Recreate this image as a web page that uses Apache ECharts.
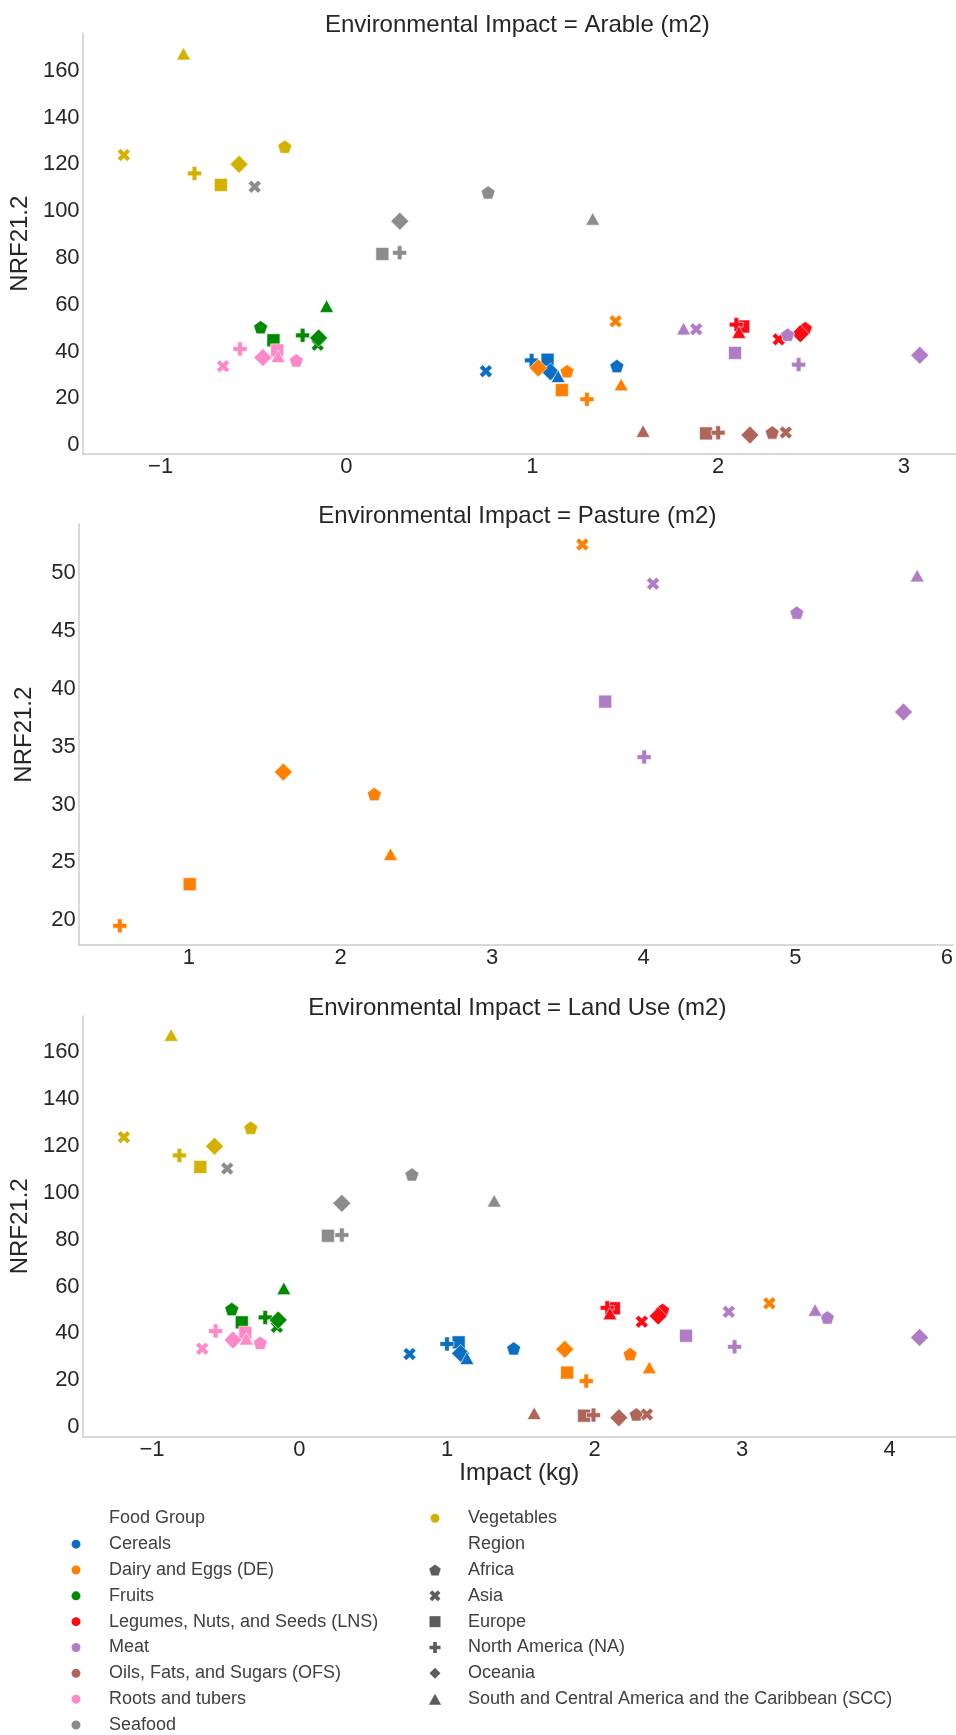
<!DOCTYPE html>
<html>
<head>
<meta charset="utf-8">
<script src="https://cdn.jsdelivr.net/npm/echarts@6/dist/echarts.min.js"></script>
<style>
html,body{margin:0;padding:0;background:#fff;}
#chart{width:956px;height:1735px;}
</style>
</head>
<body>
<div id="chart"></div>
<script>
// ---- categories ----
const foodGroups = ['Cereals','Dairy and Eggs (DE)','Fruits','Legumes, Nuts, and Seeds (LNS)','Meat','Oils, Fats, and Sugars (OFS)','Roots and tubers','Seafood','Vegetables'];
const foodColors = ['#0a6fc2','#ff8000','#008a00','#ff0a14','#b07cc6','#b0655a','#ff88c8','#8c8c8c','#d4b000'];
const regions = ['Africa','Asia','Europe','North America (NA)','Oceania','South and Central America and the Caribbean (SCC)'];
const panelTitles = ['Environmental Impact = Arable (m2)','Environmental Impact = Pasture (m2)','Environmental Impact = Land Use (m2)'];

// ---- data: [x, y] per region in order Africa, Asia, Europe, NA, Oceania, SCC ----
// Arable
const arableCereals    = [[1.455,33.8],[0.750,31.6],[1.082,36.5],[0.996,36.2],[1.098,31.3],[1.139,29.4]];
const arableDairy      = [[1.187,31.6],[1.448,52.9],[1.159,23.5],[1.294,19.6],[1.032,33.0],[1.478,25.9]];
const arableFruits     = [[-0.462,50.4],[-0.155,42.9],[-0.393,44.8],[-0.236,46.9],[-0.150,45.8],[-0.107,59.4]];
const arableLegumes    = [[2.469,50.0],[2.326,45.2],[2.135,50.7],[2.098,51.5],[2.442,47.6],[2.112,48.3]];
const arableMeat       = [[2.374,47.2],[1.882,49.5],[2.091,39.4],[2.433,34.4],[3.085,38.4],[1.814,49.8]];
const arableOils       = [[2.291,5.4],[2.364,5.4],[1.935,5.0],[2.000,5.3],[2.171,4.3],[1.596,6.0]];
const arableRoots      = [[-0.270,36.2],[-0.664,33.7],[-0.373,40.5],[-0.573,41.1],[-0.450,37.4],[-0.368,38.0]];
const arableSeafood    = [[0.762,108.0],[-0.494,110.4],[0.193,81.7],[0.286,82.2],[0.287,95.7],[1.325,96.7]];
const arableVegetables = [[-0.332,127.6],[-1.198,124.0],[-0.676,111.2],[-0.818,116.1],[-0.578,120.0],[-0.877,167.3]];
// Pasture
const pastureDairy     = [[2.223,30.9],[3.595,52.5],[1.005,23.1],[0.544,19.5],[1.623,32.8],[2.330,25.7]];
const pastureMeat      = [[5.010,46.6],[4.062,49.1],[3.746,38.9],[4.003,34.1],[5.714,38.0],[5.804,49.8]];
// Land Use
const landCereals      = [[1.452,33.6],[0.746,31.2],[1.079,36.2],[1.000,35.5],[1.092,31.5],[1.135,29.4]];
const landDairy        = [[2.241,31.2],[3.185,52.8],[1.814,23.3],[1.944,19.7],[1.798,33.2],[2.371,25.5]];
const landFruits       = [[-0.459,50.4],[-0.153,42.8],[-0.391,44.7],[-0.232,46.8],[-0.144,45.7],[-0.106,59.2]];
const landLegumes      = [[2.461,50.0],[2.320,45.0],[2.131,50.7],[2.086,50.9],[2.432,47.4],[2.104,48.5]];
const landMeat         = [[3.578,46.8],[2.910,49.2],[2.620,39.0],[2.949,34.3],[4.203,38.3],[3.495,50.0]];
const landOils         = [[2.283,5.5],[2.355,5.5],[1.929,4.95],[1.993,5.2],[2.165,4.1],[1.591,6.0]];
const landRoots        = [[-0.266,36.0],[-0.659,33.5],[-0.367,40.3],[-0.569,41.0],[-0.450,37.2],[-0.360,37.7]];
const landSeafood      = [[0.762,107.7],[-0.490,110.2],[0.193,81.6],[0.287,81.9],[0.287,95.4],[1.320,96.5]];
const landVegetables   = [[-0.330,127.6],[-1.190,123.6],[-0.672,110.9],[-0.814,115.8],[-0.576,119.7],[-0.870,167.1]];

// ---- axis ranges / ticks ----
const xRanges = [[-1.42,3.28],[0.273,6.04],[-1.47,4.45]];
const yRanges = [[-3.8,176],[17.84,54.24],[-4.0,175.2]];
const xSteps = [1,1,1];
const ySteps = [20,5,20];

// ---- construction ----
const panels = [
  [arableCereals,arableDairy,arableFruits,arableLegumes,arableMeat,arableOils,arableRoots,arableSeafood,arableVegetables],
  [null,pastureDairy,null,null,pastureMeat,null,null,null,null],
  [landCereals,landDairy,landFruits,landLegumes,landMeat,landOils,landRoots,landSeafood,landVegetables]
];
const SYM_PENT = 'path://M0,-10L9.511,-3.09L5.878,8.09L-5.878,8.09L-9.511,-3.09Z';
const SYM_X = 'path://M2,-4L4,-2L2,0L4,2L2,4L0,2L-2,4L-4,2L-2,0L-4,-2L-2,-4L0,-2Z';
const SYM_RECT = 'path://M-1,-1L1,-1L1,1L-1,1Z';
const SYM_PLUS = 'path://M-1,-3L1,-3L1,-1L3,-1L3,1L1,1L1,3L-1,3L-1,1L-3,1L-3,-1L-1,-1Z';
const SYM_DIAMOND = 'path://M0,-1L1,0L0,1L-1,0Z';
const SYM_TRI = 'path://M0,-1L1,0.8L-1,0.8Z';
const regionSymbols = [SYM_PENT, SYM_X, SYM_RECT, SYM_PLUS, SYM_DIAMOND, SYM_TRI];
const regionSizes = [14, 13, 13, 14, 18, 14];

const FONT = '"Liberation Sans", Arial, sans-serif';
const TXT = '#262626';
const gridTops = [33.3, 524.3, 1016];
const gridH = 420.7;
const plotLeft = 78.7;
const plotCenter = plotLeft + (956 - plotLeft) / 2;

const grids = [], xAxes = [], yAxes = [], titles = [];
const fmt = v => (v < 0 ? '\u2212' + Math.abs(v) : String(v));
for (let p = 0; p < 3; p++) {
  grids.push({left: plotLeft, top: gridTops[p], right: 0, height: gridH, containLabel: false});
  xAxes.push({
    type: 'value', gridIndex: p, min: xRanges[p][0], max: xRanges[p][1],
    minInterval: xSteps[p], maxInterval: xSteps[p], splitNumber: 5,
    axisLine: {show: true, onZero: false, lineStyle: {color: '#cccccc', width: 1.5}},
    axisTick: {show: false}, splitLine: {show: false},
    axisLabel: {fontFamily: FONT, fontSize: 22, color: TXT, margin: 2, formatter: fmt, showMinLabel: false, showMaxLabel: false},
    name: p === 2 ? 'Impact (kg)' : '', nameLocation: 'middle', nameGap: 22,
    nameTextStyle: {fontFamily: FONT, fontSize: 24, color: TXT}
  });
  yAxes.push({
    type: 'value', gridIndex: p, min: yRanges[p][0], max: yRanges[p][1],
    minInterval: ySteps[p], maxInterval: ySteps[p], splitNumber: 8,
    axisLine: {show: true, onZero: false, lineStyle: {color: '#cccccc', width: 1.5}},
    axisTick: {show: false}, splitLine: {show: false},
    axisLabel: {fontFamily: FONT, fontSize: 22, color: TXT, margin: 3, formatter: fmt, showMinLabel: false, showMaxLabel: false},
    name: 'NRF21.2', nameLocation: 'middle', nameGap: 42,
    nameTextStyle: {fontFamily: FONT, fontSize: 24, color: TXT}
  });
  titles.push({
    text: panelTitles[p], left: plotCenter, textAlign: 'center', top: gridTops[p] - 20, padding: 0,
    textStyle: {fontFamily: FONT, fontSize: 24, fontWeight: 'normal', color: TXT}
  });
}

const series = [];
for (let p = 0; p < 3; p++) {
  panels[p].forEach((arr, g) => {
    if (!arr) return;
    series.push({
      type: 'scatter', name: foodGroups[g], xAxisIndex: p, yAxisIndex: p,
      symbolKeepAspect: true,
      itemStyle: {color: foodColors[g], borderColor: '#ffffff', borderWidth: 0.6, opacity: 1},
      emphasis: {disabled: true},
      data: arr.map((v, r) => ({value: v, symbol: regionSymbols[r], symbolSize: regionSizes[r]}))
    });
  });
}
// legend-only series (no data)
series.push({type: 'scatter', name: 'Food Group', data: [], xAxisIndex: 0, yAxisIndex: 0});
series.push({type: 'scatter', name: 'Region', data: [], xAxisIndex: 0, yAxisIndex: 0});
regions.forEach((r, i) => {
  series.push({type: 'scatter', name: r, data: [], xAxisIndex: 0, yAxisIndex: 0,
    symbol: regionSymbols[i], itemStyle: {color: '#333333'}});
});

const legendCommon = {
  orient: 'vertical', padding: 0, itemGap: 5.84, itemWidth: 56, itemHeight: 11,
  selectedMode: false, symbolKeepAspect: true, height: 260,
  textStyle: {fontFamily: FONT, fontSize: 18, color: '#404040', lineHeight: 20}
};
const legend1 = Object.assign({}, legendCommon, {
  left: 48, top: 1508.3, width: 340,
  data: [{name: 'Food Group', icon: 'none'}].concat(foodGroups.slice(0, 8).map(n => ({name: n, icon: 'circle'})))
});
const legend2 = Object.assign({}, legendCommon, {
  left: 407, top: 1508.3, width: 540,
  data: [{name: 'Vegetables', icon: 'circle'}, {name: 'Region', icon: 'none'}]
    .concat(regions.map((n, i) => ({name: n, icon: regionSymbols[i]})))
});

const chart = echarts.init(document.getElementById('chart'), null, {renderer: 'canvas'});
chart.setOption({
  animation: false,
  backgroundColor: '#ffffff',
  title: titles,
  grid: grids,
  xAxis: xAxes,
  yAxis: yAxes,
  legend: [legend1, legend2],
  series: series
});
</script>
</body>
</html>
